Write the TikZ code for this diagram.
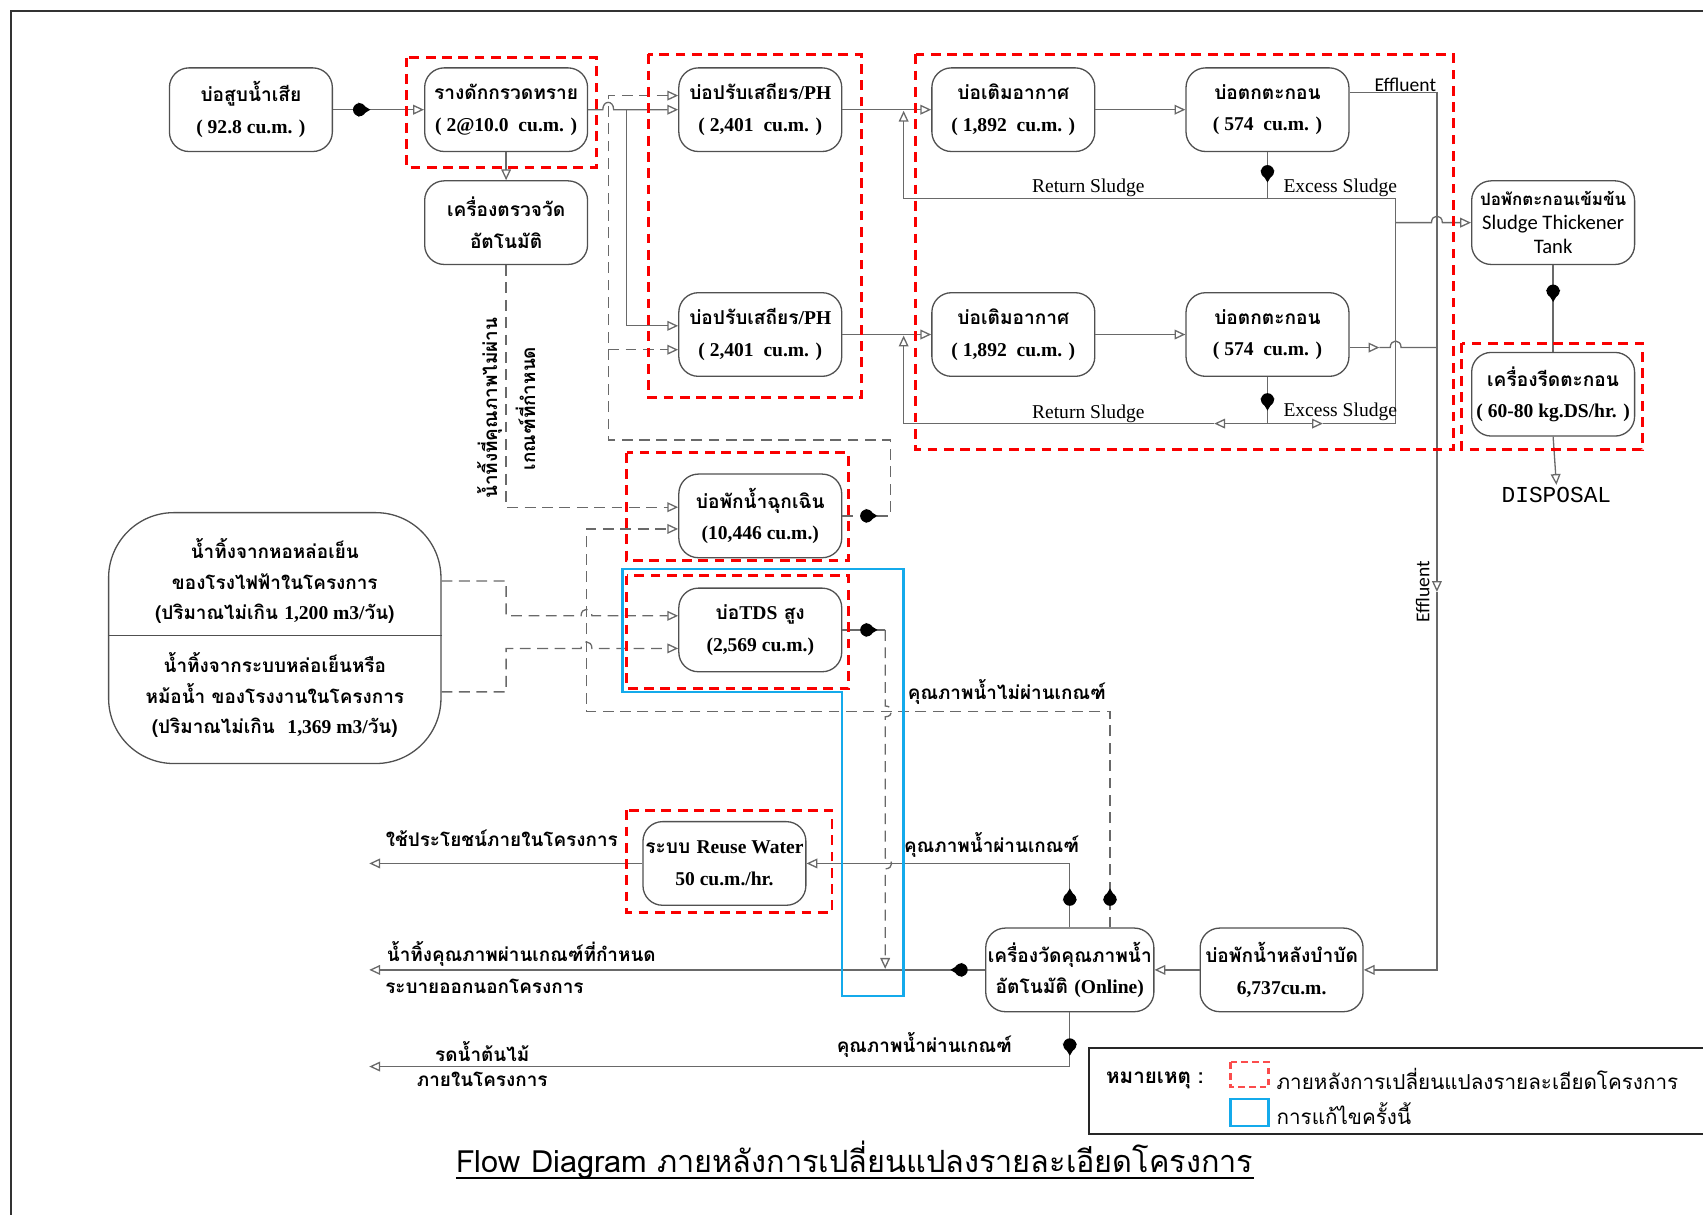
\documentclass[tikz,border=0pt]{standalone}
\usepackage{fontspec}
\setmainfont{Liberation Serif}
\newfontfamily\thai[Script=Thai]{Loma}
\newfontfamily\calib{Carlito}
\newfontfamily\cour{Liberation Mono}
\usetikzlibrary{arrows.meta,calc}

\definecolor{ln}{RGB}{105,105,105}
\definecolor{bx}{RGB}{80,80,80}
\definecolor{redbox}{RGB}{250,0,0}
\definecolor{bluebox}{RGB}{20,170,235}

\newcommand\lt[1]{{\rmfamily\bfseries\fontsize{9}{14.5}\selectfont #1}}

\begin{document}
\begin{tikzpicture}[x=0.5pt,y=-0.5pt,
  >={Triangle[open,length=5pt,width=4.5pt]},
  box/.style={draw=bx,line width=0.6pt,rounded corners=9pt,minimum width=75pt,
    minimum height=38.5pt,align=center,inner sep=1pt,
    font=\thai\bfseries\fontsize{8.8}{14.5}\selectfont},
  flow/.style={draw=ln,line width=0.6pt},
  dflow/.style={flow,dash pattern=on 5pt off 3pt},
  redzone/.style={draw=redbox,line width=1.3pt,dash pattern=on 4.5pt off 3pt},
  tlabel/.style={font=\thai\bfseries\fontsize{8.7}{12}\selectfont,inner sep=0pt},
  elabel/.style={font=\rmfamily\fontsize{9}{11}\selectfont,inner sep=0pt},
  clabel/.style={font=\calib\fontsize{9}{10}\selectfont,inner sep=0pt},
  pump/.pic={\fill[black] (0,0) circle (3pt);
             \fill[black] (-0.5pt,3.3pt) -- (5pt,0pt) -- (-0.5pt,-3.3pt) -- cycle;}
]
\useasboundingbox (0,0) rectangle (1568,1118);

% page frame
\draw[line width=0.9pt,black!80] (10,1125) -- (10,10) -- (1575,10);

% ---------- process units ----------
\node[box] (n1) at (231,101) {บ่อสูบน้ำเสีย\\\lt{( 92.8 cu.m. )}};
\node[box] (n2) at (466,101) {รางดักกรวดทราย\\\lt{( 2@10.0~ cu.m. )}};
\node[box] (n3) at (466,205) {เครื่องตรวจวัด\\อัตโนมัติ};
\node[box] (n4) at (700,101) {บ่อปรับเสถียร\lt{/PH}\\\lt{( 2,401~ cu.m. )}};
\node[box] (n5) at (700,308) {บ่อปรับเสถียร\lt{/PH}\\\lt{( 2,401~ cu.m. )}};
\node[box] (n6) at (933,101) {บ่อเติมอากาศ\\\lt{( 1,892~ cu.m. )}};
\node[box] (n7) at (1167,101) {บ่อตกตะกอน\\\lt{( 574~ cu.m. )}};
\node[box] (n8) at (933,308) {บ่อเติมอากาศ\\\lt{( 1,892~ cu.m. )}};
\node[box] (n9) at (1167,308) {บ่อตกตะกอน\\\lt{( 574~ cu.m. )}};
\node[box,font=\thai\bfseries\fontsize{7.8}{11}\selectfont] (n10) at (1430,205)
  {ปอพักตะกอนเข้มข้น\\{\calib\mdseries\fontsize{9.5}{11}\selectfont Sludge Thickener}\\{\calib\mdseries\fontsize{9.5}{11}\selectfont Tank}};
\node[box] (n11) at (1430,363) {เครื่องรีดตะกอน\\\lt{( 60-80 kg.DS/hr. )}};
\node[box] (n12) at (700,475) {บ่อพักน้ำฉุกเฉิน\\\lt{(10,446 cu.m.)}};
\node[box] (n13) at (700,580) {บ่อ\lt{TDS} สูง\\\lt{(2,569 cu.m.)}};
\node[box] (n14) at (667,795) {ระบบ \lt{Reuse Water}\\\lt{50 cu.m./hr.}};
\node[box] (n15) at (985,893) {เครื่องวัดคุณภาพน้ำ\\อัตโนมัติ \lt{(Online)}};
\node[box] (n16) at (1180,893) {บ่อพักน้ำหลังบำบัด\\\lt{6,737cu.m.}};
\node[font=\cour\fontsize{10.5}{12}\selectfont,inner sep=1pt] (disp) at (1433,456) {DISPOSAL};

% wastewater sources
\node[draw=bx,line width=0.6pt,rounded corners=30pt,minimum width=153pt,
  minimum height=115.5pt,inner sep=0pt] (src) at (253,587.5) {};
\draw[bx,line width=0.6pt] (src.west |- 0,585) -- (src.east |- 0,585);
\node[tlabel,align=center,font=\thai\bfseries\fontsize{8.7}{14}\selectfont] at (253,535)
  {น้ำทิ้งจากหอหล่อเย็น\\ของโรงไฟฟ้าในโครงการ\\(ปริมาณไม่เกิน \lt{1,200 m3/}วัน)};
\node[tlabel,align=center,font=\thai\bfseries\fontsize{8.7}{14}\selectfont] at (253,640)
  {น้ำทิ้งจากระบบหล่อเย็นหรือ\\หม้อน้ำ ของโรงงานในโครงการ\\(ปริมาณไม่เกิน~ \lt{1,369 m3/}วัน)};

% ---------- main treatment train ----------
\draw[flow,->] (n1) -- (n2);
\draw[flow,->] (n2) -- (n3);
\draw[flow,->] (n2.east) -- (555,101) .. controls (555,92) and (565,92) .. (565,101) -- (n4.west);
\draw[flow,->] (577,101) -- (577,300) -- (n5.west |- 0,300);
\draw[flow,->] (n4) -- (n6);
\draw[flow,->] (n6) -- (n7);
\draw[flow,->] (n5) -- (n8);
\draw[flow,->] (n8) -- (n9);

% emergency pond return line
\draw[dflow,->] (n12.east) -- (820,475) -- (820,405) -- (560,405) -- (560,88) -- (n4.west |- 0,88);
\draw[dflow,->] (560,322) -- (n5.west |- 0,322);

% upper sludge lines
\draw[flow] (n7.south) -- (1167,183);
\draw[flow,->] (1167,183) -- (832,183) -- (832,102);
\draw[flow] (1167,183) -- (1285,183) -- (1285,390);
\draw[flow,->] (1285,205) -- (1318,205) .. controls (1318,197) and (1328,197) .. (1328,205) -- (n10.west);

% lower sludge lines
\draw[flow] (n9.south) -- (1167,390);
\draw[flow,->] (1167,390) -- (1118,390);
\draw[flow,->] (1118,390) -- (832,390) -- (832,309);
\draw[flow,->] (1167,390) -- (1218,390);
\draw[flow] (1218,390) -- (1285,390);

% clarifier effluent
\draw[flow,->] (n7.east |- 0,85) -- (1323,85) -- (1323,545);
\draw[flow,->] (1323,545) -- (1323,893) -- (n16.east);
\draw[flow,->] (n9.east |- 0,320) -- (1270,320);
\draw[flow] (1270,320) -- (1280,320) .. controls (1280,312) and (1290,312) .. (1290,320) -- (1323,320);

% sludge handling
\draw[flow] (n10) -- (n11);
\draw[flow,->] (n11.south) -- (disp.north);

% off-spec water from the automatic meter
\draw[dflow,->] (n3.south) -- (466,467) -- (n12.west |- 0,467);

% cooling / boiler blowdown streams
\draw[dflow,->] (src.east |- 0,535) -- (466,535) -- (466,567) -- (535,567)
  .. controls (535,559) and (545,559) .. (545,567) -- (n13.west |- 0,567);
\draw[dflow,->] (src.east |- 0,637) -- (466,637) -- (466,597) -- (535,597)
  .. controls (535,589) and (545,589) .. (545,597) -- (n13.west |- 0,597);

% off-spec treated water back to the emergency pond
\draw[dflow,->] ($(n15.north)+(37,0)$) -- (1022,655) -- (540,655) -- (540,487) -- (n12.west |- 0,487);

% high TDS pond discharge
\draw[flow] (n13.east) -- (815,580);
\draw[dflow,->] (815,580) -- (815,650) .. controls (823,650) and (823,660) .. (815,660)
  -- (815,790) .. controls (823,790) and (823,800) .. (815,800) -- (815,892);

% treated water outlets
\draw[flow,->] (n15.north) -- (985,795) -- (n14.east);
\draw[flow,->] (n14.west) -- (340,795);
\draw[flow,->] (n15.west) -- (340,893);
\draw[flow,->] (n15.south) -- (985,982) -- (340,982);
\draw[flow,->] (n16) -- (n15);

% pumps
\pic at (331,101) {pump};
\pic at (798,475) {pump};
\pic at (798,580) {pump};
\pic[rotate=-90] at (1167,158) {pump};
\pic[rotate=-90] at (1167,368) {pump};
\pic[rotate=-90] at (1430,268) {pump};
\pic[rotate=90] at (1022,828) {pump};
\pic[rotate=90] at (985,828) {pump};
\pic[rotate=180] at (885,893) {pump};
\pic[rotate=-90] at (985,962) {pump};

% line labels
\node[clabel] at (1294,78) {Effluent};
\node[clabel,rotate=90] at (1310,545) {Effluent};
\node[elabel] at (1002,173) {Return Sludge};
\node[elabel] at (1234,173) {Excess Sludge};
\node[elabel] at (1002,381) {Return Sludge};
\node[elabel] at (1234,379) {Excess Sludge};
\node[tlabel,rotate=90,align=center,font=\thai\bfseries\fontsize{8.7}{17.5}\selectfont] at (466,376)
  {น้ำทิ้งที่คุณภาพไม่ผ่าน\\เกณฑ์ที่กำหนด};
\node[tlabel] at (927,637) {คุณภาพน้ำไม่ผ่านเกณฑ์};
\node[tlabel] at (913,778) {คุณภาพน้ำผ่านเกณฑ์};
\node[tlabel] at (462,772) {ใช้ประโยชน์ภายในโครงการ};
\node[tlabel] at (480,878) {น้ำทิ้งคุณภาพผ่านเกณฑ์ที่กำหนด};
\node[tlabel] at (446,908) {ระบายออกนอกโครงการ};
\node[tlabel] at (851,962) {คุณภาพน้ำผ่านเกณฑ์};
\node[tlabel] at (444,968) {รดน้ำต้นไม้};
\node[tlabel] at (444,994) {ภายในโครงการ};

% revised areas
\draw[redzone] (374,53) rectangle (549,154);
\draw[redzone] (597,50) rectangle (793,366);
\draw[redzone] (843,50) rectangle (1338,414);
\draw[redzone] (1346,316) rectangle (1512,414);
\draw[redzone] (577,417) rectangle (781,516);
\draw[redzone] (577,530) rectangle (781,634);
\draw[redzone] (577,746) rectangle (766,840);
\draw[bluebox,line width=1.1pt] (573,524) -- (832,524) -- (832,917) -- (775,917)
  -- (775,637) -- (573,637) -- cycle;

% legend
\draw[line width=0.9pt,black!85] (1003,965) rectangle (1580,1044);
\node[tlabel,anchor=west,font=\thai\bfseries\fontsize{9.5}{12}\selectfont] at (1018,995) {หมายเหตุ :};
\draw[draw=redbox!70,line width=1pt,dash pattern=on 3pt off 2pt] (1133,978) rectangle (1168,1001);
\draw[bluebox,line width=1pt] (1133,1012) rectangle (1168,1037);
\node[anchor=west,inner sep=0pt,font=\thai\fontsize{9.5}{11}\selectfont] at (1175,993)
  {ภายหลังการเปลี่ยนแปลงรายละเอียดโครงการ};
\node[anchor=west,inner sep=0pt,font=\thai\fontsize{9.5}{11}\selectfont] at (1175,1025)
  {การแก้ไขครั้งนี้};

% title
\node[font=\thai\fontsize{14.1}{17}\selectfont,inner sep=0pt] (title) at (787,1068)
  {Flow Diagram ภายหลังการเปลี่ยนแปลงรายละเอียดโครงการ};
\draw[line width=0.8pt] ([yshift=-2.5pt]title.base west) -- ([yshift=-2.5pt]title.base east);
\end{tikzpicture}
\end{document}
